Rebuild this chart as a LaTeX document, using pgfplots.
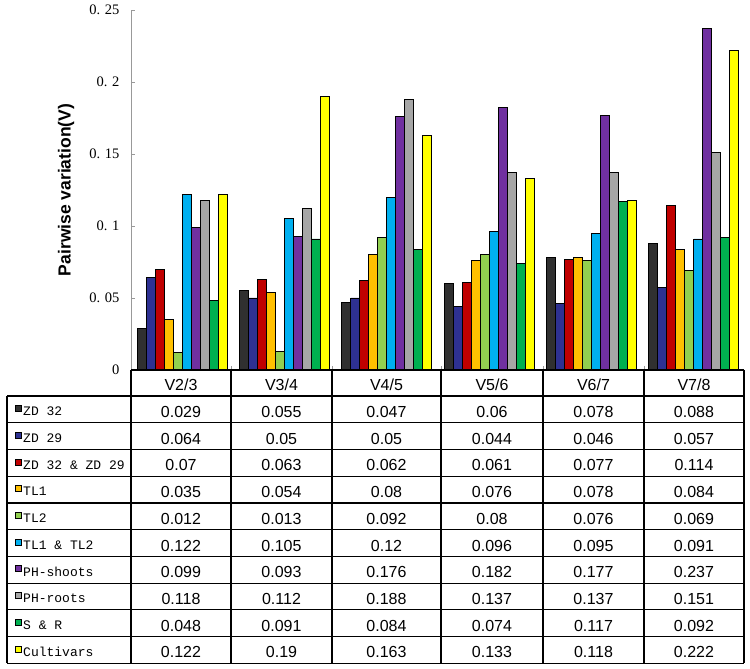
\documentclass[border=0pt]{standalone}
\usepackage{pgfplots}
\pgfplotsset{compat=1.18}
\usepackage{pgfplotstable}
\usepackage{fontspec}
\setmainfont{Liberation Sans}
\newfontfamily\monofont{Liberation Mono}
\newfontfamily\seriffont{Liberation Serif}
\definecolor{ca}{HTML}{303030}
\definecolor{cb}{HTML}{2E3192}
\definecolor{cc}{HTML}{C00000}
\definecolor{cd}{HTML}{FFC000}
\definecolor{ce}{HTML}{92D050}
\definecolor{cf}{HTML}{00B0F0}
\definecolor{cg}{HTML}{7030A0}
\definecolor{ch}{HTML}{A6A6A6}
\definecolor{ci}{HTML}{00B050}
\definecolor{cj}{HTML}{FFFF00}
\pgfplotstableread{
x a b c d e f g h i j
1 0.029 0.064 0.07 0.035 0.012 0.122 0.099 0.118 0.048 0.122
2 0.055 0.05 0.063 0.054 0.013 0.105 0.093 0.112 0.091 0.19
3 0.047 0.05 0.062 0.08 0.092 0.12 0.176 0.188 0.084 0.163
4 0.06 0.044 0.061 0.076 0.08 0.096 0.182 0.137 0.074 0.133
5 0.078 0.046 0.077 0.078 0.076 0.095 0.177 0.137 0.117 0.118
6 0.088 0.057 0.114 0.084 0.069 0.091 0.237 0.151 0.092 0.222
}\datatable
\begin{document}
\begin{tikzpicture}[x=1pt,y=1pt]
\path (0,0) rectangle (750,669);
\begin{axis}[
  at={(131pt,299pt)}, anchor=south west,
  scale only axis, width=614pt, height=360pt,
  xmin=0.5, xmax=6.5, ymin=0, ymax=0.25,
  axis x line=none, axis y line=left,
  axis line style={-, gray!80, line width=0.8pt},
  ytick={0,0.05,0.1,0.15,0.2,0.25},
  yticklabels={0,0. 05,0. 1,0. 15,0. 2,0. 25},
  tick align=inside, major tick length=4pt,
  ytick style={gray!80, line width=0.8pt},
  yticklabel style={font=\seriffont\fontsize{14.5}{16}\selectfont, xshift=-8pt},
  ylabel={Pairwise variation(V)},
  ylabel style={font=\bfseries\fontsize{17.5}{20}\selectfont, at={(axis description cs:-0.1059,0.5)}, anchor=center},
  ybar=0pt, bar width=9pt,
  every axis plot/.append style={draw=black, line width=0.9pt},
]
\addplot[fill=ca] table[x=x,y=a]{\datatable};
\addplot[fill=cb] table[x=x,y=b]{\datatable};
\addplot[fill=cc] table[x=x,y=c]{\datatable};
\addplot[fill=cd] table[x=x,y=d]{\datatable};
\addplot[fill=ce] table[x=x,y=e]{\datatable};
\addplot[fill=cf] table[x=x,y=f]{\datatable};
\addplot[fill=cg] table[x=x,y=g]{\datatable};
\addplot[fill=ch] table[x=x,y=h]{\datatable};
\addplot[fill=ci] table[x=x,y=i]{\datatable};
\addplot[fill=cj] table[x=x,y=j]{\datatable};
\end{axis}
% table
\foreach \xx in {231,332,441,543,644} \draw[gray!80, line width=0.8pt] (\xx,299) -- (\xx,303);
\draw[line width=1.2pt] (131,299) -- (744,299);
\foreach \k in {0,...,10} \draw[line width=1.2pt] (7,273-26.73*\k) -- (744,273-26.73*\k);
\draw[line width=1.2pt] (7,273) -- (7,5.7);
\foreach \xx in {131,231,332,441,543,644,744} \draw[line width=1.2pt] (\xx,299) -- (\xx,5.7);
\begin{scope}[every node/.style={font=\fontsize{16}{18}\selectfont}]
\node at (181,284) {V2/3};
\node at (281.5,284) {V3/4};
\node at (386.5,284) {V4/5};
\node at (492,284) {V5/6};
\node at (593.5,284) {V6/7};
\node at (694,284) {V7/8};
\end{scope}
\foreach \col/\lab [count=\i from 0] in {a/ZD 32, b/ZD 29, c/ZD 32 \& ZD 29, d/TL1, e/TL2, f/TL1 \& TL2, g/PH-shoots, h/PH-roots, i/S \& R, j/Cultivars} {
  \pgfmathsetmacro\yc{273-26.73*(\i+0.5)}
  \draw[fill=c\col, line width=0.6pt] (15.5,\yc-2) rectangle (21.5,\yc+4);
  \node[anchor=west, inner sep=0pt, font=\monofont\fontsize{13}{15}\selectfont] at (23,\yc-2) {\lab};
  \foreach \xc [count=\r from 0] in {181,281.5,386.5,492,593.5,694} {
    \pgfplotstablegetelem{\r}{\col}\of\datatable
    \node[font=\fontsize{16}{18}\selectfont] at (\xc,\yc-2.5) {\pgfplotsretval};
  }
}
\end{tikzpicture}
\end{document}
